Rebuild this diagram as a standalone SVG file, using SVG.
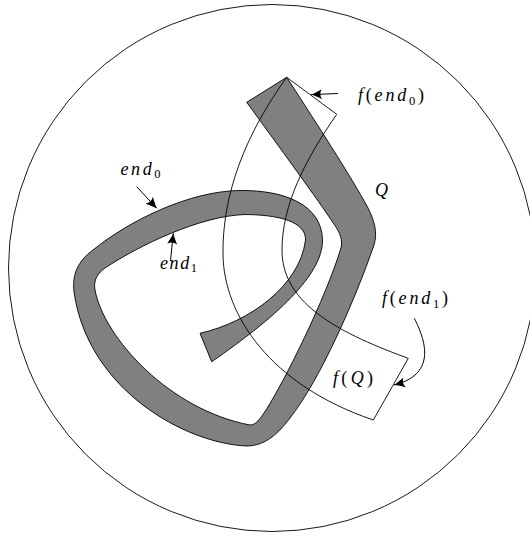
<svg xmlns="http://www.w3.org/2000/svg" width="530" height="536" viewBox="0 0 530 536">
<style>
.thin{fill:none;stroke:#000;stroke-width:0.9}
.band{fill:#808080;stroke:#000;stroke-width:0.9;stroke-linejoin:round}
.lbl{font-family:"Liberation Serif","Times New Roman",serif;font-style:italic;font-size:18px;fill:#000}
.up{font-style:normal}
.sub{font-size:12.5px;font-style:normal}
.arr{fill:none;stroke:#000;stroke-width:1}
</style>
<defs>
<marker id="ah" markerUnits="userSpaceOnUse" viewBox="-12 -6 13 12" refX="0" refY="0" markerWidth="13" markerHeight="12" orient="auto">
<path d="M0,0 C-3,-1 -7.5,-3.2 -11,-5 Q-7.5,0 -11,5 C-7.5,3.2 -3,1 0,0 Z" fill="#000"/>
</marker>
</defs>
<g id="disk">
<circle cx="272" cy="268" r="263.5" class="thin"/>
</g>
<g id="band">
<path class="band" d="M246.7,102.3 L286.7,77.3 C315,121 352,178 368,208 C374,220 378,232 374,245 C355,300 320,380 290,418 C275,438 262,446 246,446 C185,443 88,390 74,292 C72,274 78,261 93,250 C130,220 190,191 240,190.5 C285,190 322,205 322.5,240 C323,275 275,318 211.7,361.7 L200,333.3 C250,322 300,285 305.5,240 C306,226 290,215 245,214.5 C200,216 140,245 105,268 C98,273 93,280 95,290 C104,338 170,410 250,425 C256,425 260,419 266,410 C285,380 325,300 341,248 C343,240 340,233 334,224 C318,200 280,148 246.7,102.3 Z"/>
</g>
<g id="fQ">
<path class="thin" d="M286.7,77.3 C245,135 222,195 223,255 C224,315 270,385 373.3,420 L408.3,358.3 C330,330 282,300 282,250 C282,205 305,160 336.7,114.3 Z"/>
</g>
<g id="connectors">
<path class="arr" d="M136.7,186.7 L156.7,208.3" marker-end="url(#ah)"/>
<path class="arr" d="M170.5,261 L173.3,233.3" marker-end="url(#ah)"/>
<path class="arr" d="M338,93.5 L311,94.6" marker-end="url(#ah)"/>
<path class="arr" d="M414.3,318.3 C428,345 434,375 394,385" marker-end="url(#ah)"/>
</g>
<g id="labels">
<text class="lbl" x="358" y="101" textLength="66" lengthAdjust="spacing">f<tspan class="up">(</tspan>end<tspan class="sub" dy="4">0</tspan><tspan class="up" dy="-4">)</tspan></text>
<text class="lbl" x="120.5" y="175" textLength="40" lengthAdjust="spacing">end<tspan class="sub" dy="3">0</tspan></text>
<text class="lbl" x="160" y="269" textLength="37" lengthAdjust="spacing">end<tspan class="sub" dy="3">1</tspan></text>
<text class="lbl" x="375" y="196">Q</text>
<text class="lbl" x="382" y="304" textLength="66" lengthAdjust="spacing">f<tspan class="up">(</tspan>end<tspan class="sub" dy="4">1</tspan><tspan class="up" dy="-4">)</tspan></text>
<text class="lbl" x="333" y="384" textLength="40" lengthAdjust="spacing">f<tspan class="up">(</tspan>Q<tspan class="up">)</tspan></text>
</g>
</svg>
